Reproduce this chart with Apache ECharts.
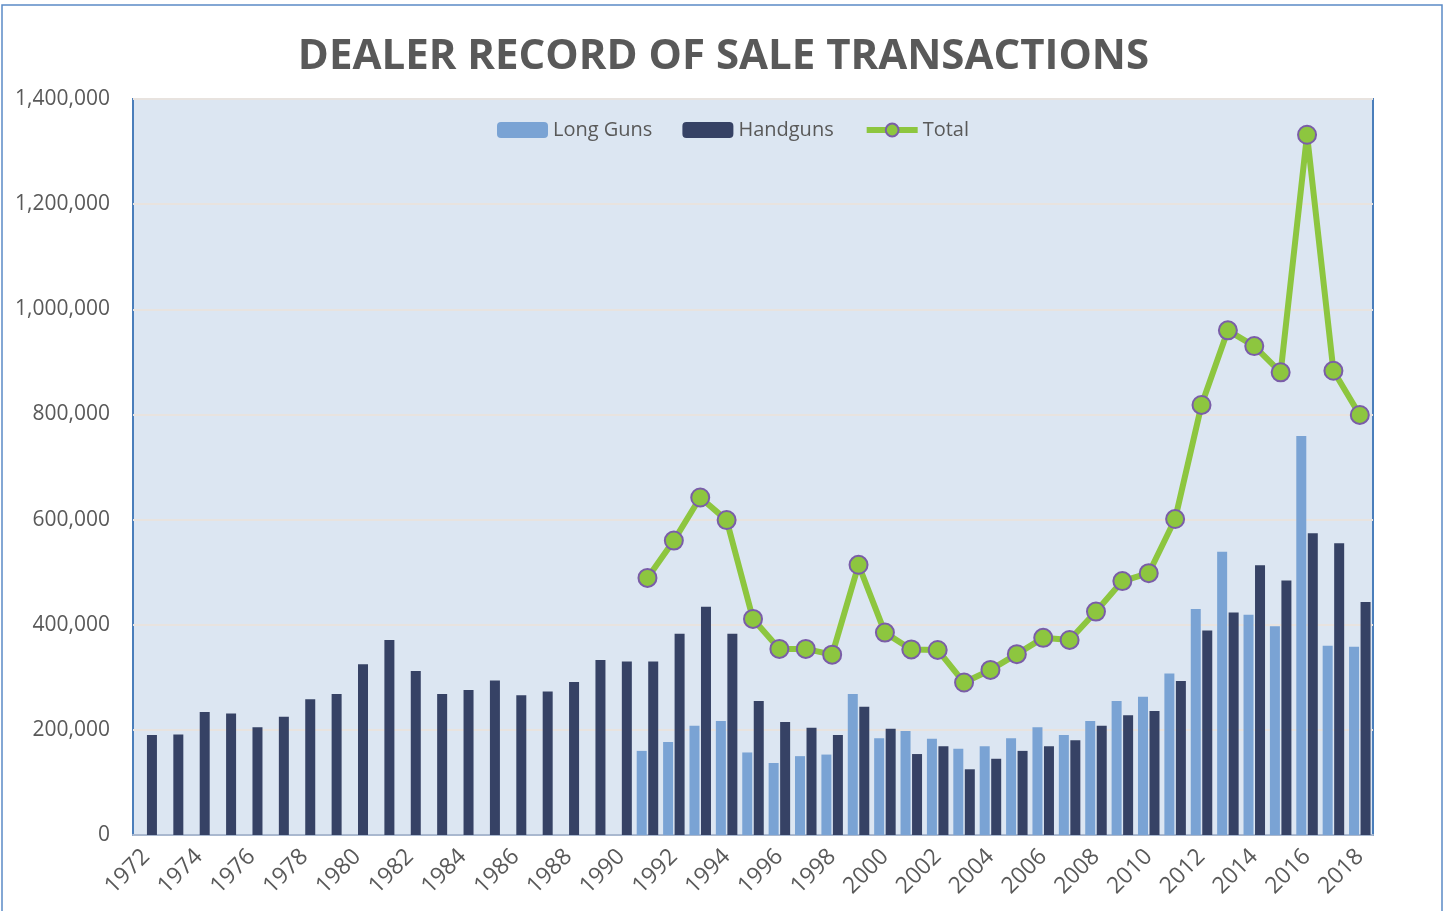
<!DOCTYPE html>
<html>
<head>
<meta charset="utf-8">
<script src="https://cdn.jsdelivr.net/npm/echarts@6/dist/echarts.min.js"></script>
<style>
  html, body { margin: 0; padding: 0; background: #fff; }
  #chart { width: 1447px; height: 911px; }
</style>
</head>
<body>
<div id="chart"></div>
<script>
// years 1972 - 2018
const years = []
for (let y = 1972; y <= 2018; y++) years.push(String(y))

// long guns only reported from 1991
const longGuns = [
  null, null, null, null, null, null, null, null, null, null,
  null, null, null, null, null, null, null, null, null,
  160000, 177000, 208000, 217000, 157000, 137000, 150000, 153000, 268000, 184000,
  198000, 183000, 164000, 169000, 184000, 205000, 190000, 217000, 255000, 263000,
  307000, 430000, 539000, 419000, 397000, 759000, 360000, 358000
]

const handguns = [
  190000, 191000, 234000, 231000, 205000, 225000, 258000, 268000, 325000, 371000,
  312000, 268000, 276000, 294000, 266000, 273000, 291000, 333000, 330000,
  330000, 383000, 434000, 383000, 255000, 215000, 204000, 190000, 244000, 202000,
  154000, 169000, 125000, 145000, 160000, 169000, 180000, 208000, 228000, 236000,
  293000, 389000, 423000, 513000, 484000, 574000, 555000, 443000
]

const totals = [
  null, null, null, null, null, null, null, null, null, null,
  null, null, null, null, null, null, null, null, null,
  489000, 560000, 642000, 599000, 411000, 354000, 354000, 343000, 514000, 385000,
  353000, 352000, 290000, 314000, 344000, 375000, 371000, 425000, 483000, 498000,
  601000, 818000, 960000, 930000, 880000, 1332000, 883000, 799000
]

const chart = echarts.init(document.getElementById('chart'))
const font = 'Open Sans, Liberation Sans, sans-serif'

const option = {
  backgroundColor: '#ffffff',
  textStyle: { fontFamily: font },
  graphic: [{
    type: 'rect',
    shape: { x: 2, y: 5, width: 1440, height: 920 },
    style: { fill: 'none', stroke: '#5B8BC6', lineWidth: 1.5 },
    silent: true
  }],
  title: {
    text: 'DEALER RECORD OF SALE TRANSACTIONS',
    left: 'center',
    top: 31,
    textStyle: { fontFamily: font, fontSize: 42, fontWeight: 'bold', color: '#595959' }
  },
  legend: {
    top: 115,
    left: 492,
    itemWidth: 51,
    itemHeight: 16,
    itemGap: 30,
    textStyle: { fontSize: 20, color: '#595959' },
    data: [
      'Long Guns',
      'Handguns',
      { name: 'Total', lineStyle: { width: 6 }, itemStyle: { borderWidth: 2 } }
    ]
  },
  grid: {
    left: 133,
    right: 74,
    top: 99,
    bottom: 76,
    show: true,
    backgroundColor: '#DCE6F2',
    borderColor: '#4A7EBB',
    borderWidth: 2
  },
  xAxis: {
    type: 'category',
    data: years,
    axisLine: { lineStyle: { color: '#A9B8CF', width: 2 } },
    axisTick: { alignWithLabel: true, length: 6, lineStyle: { color: '#BFBFBF' } },
    axisLabel: { interval: 1, rotate: 45, fontSize: 23, color: '#595959', margin: 18 }
  },
  yAxis: {
    type: 'value',
    min: 0,
    max: 1400000,
    interval: 200000,
    axisLine: { show: false },
    axisTick: { show: false },
    splitLine: { lineStyle: { color: '#E8E3DF', width: 2 } },
    axisLabel: {
      fontSize: 21,
      color: '#595959',
      margin: 23,
      formatter: v => v.toLocaleString('en-US')
    }
  },
  series: [
    {
      name: 'Long Guns',
      type: 'bar',
      data: longGuns,
      barWidth: 10,
      barGap: '15%',
      itemStyle: { color: '#7AA3D4' }
    },
    {
      name: 'Handguns',
      type: 'bar',
      data: handguns,
      barWidth: 10,
      itemStyle: { color: '#364265' }
    },
    {
      name: 'Total',
      type: 'line',
      data: totals,
      symbol: 'circle',
      symbolSize: 18,
      showAllSymbol: true,
      lineStyle: { color: '#8DC63F', width: 6 },
      itemStyle: { color: '#8DC63F', borderColor: '#7A5DA8', borderWidth: 2 },
      z: 5
    }
  ]
}

option && chart.setOption(option)
</script>
</body>
</html>
